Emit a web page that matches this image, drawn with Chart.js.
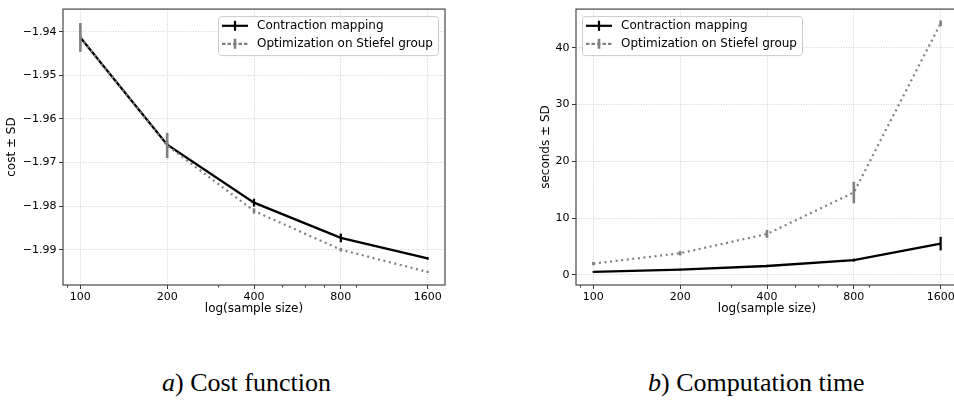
<!DOCTYPE html>
<html><head><meta charset="utf-8">
<script src="https://cdn.jsdelivr.net/npm/chart.js@4.4.0/dist/chart.umd.min.js"></script>
<style>
html,body{margin:0;padding:0;background:#fff;width:954px;height:403px;overflow:hidden;position:relative}
#wl{position:absolute;left:0;top:0;width:470px;height:320px}
#wr{position:absolute;left:480px;top:0;width:474px;height:320px;overflow:hidden}
.cap{position:absolute;top:370px;font-family:"Liberation Serif","Times New Roman",serif;font-size:26px;line-height:26px;color:#000;white-space:nowrap}
</style></head><body>
<div id="wl"><canvas id="cl" width="470" height="320"></canvas></div>
<div id="wr"><canvas id="cr" width="480" height="320"></canvas></div>
<div class="cap" style="left:162px"><i>a</i>) Cost function</div>
<div class="cap" style="left:648px"><i>b</i>) Computation time</div>
<script>
// ---- data ----
const sampleSizes = [100, 200, 400, 800, 1600];
const xTickLabels = ['100', '200', '400', '800', '1600'];
const xMinorTicks = [90, 300, 500, 600, 700, 900];
const seriesNames = ['Contraction mapping', 'Optimization on Stiefel group'];

const costContraction   = [-1.9413, -1.9659, -1.9792, -1.9873, -1.9920];
const costContractionSD = [0.0003, 0.0005, 0.0009, 0.0010, 0.0003];
const costStiefel       = [-1.9413, -1.9661, -1.9811, -1.9900, -1.9951];
const costStiefelSD     = [0.0033, 0.0029, 0.0006, 0.0004, 0.0002];
const costTicks = [-1.94, -1.95, -1.96, -1.97, -1.98, -1.99];
const costRange = [-1.9981, -1.9348];

const timeContraction   = [0.52, 0.93, 1.56, 2.6, 5.5];
const timeContractionSD = [0.1, 0.15, 0.2, 0.25, 1.2];
const timeStiefel       = [1.98, 3.8, 7.2, 14.5, 44.3];
const timeStiefelSD     = [0.3, 0.4, 0.7, 1.9, 0.5];
const timeTicks = [0, 10, 20, 30, 40];
const timeRange = [-1.79, 46.8];

const xRange = [100 * Math.pow(2, -0.2), 1600 * Math.pow(2, 0.2)];

// ---- styling ----
const FONT = '"DejaVu Sans", sans-serif';
const BLACK = '#000000';
const GREY = '#808080';

const errorAndFrame = {
  id: 'errorAndFrame',
  afterDatasetDraw(chart, args) {
    const ds = chart.data.datasets[args.index];
    const ctx = chart.ctx, xs = chart.scales.x, ys = chart.scales.y;
    ctx.save();
    ctx.strokeStyle = ds.borderColor;
    ctx.lineWidth = ds.barWidth;
    ctx.setLineDash([]);
    ds.data.forEach((p, i) => {
      const x = xs.getPixelForValue(p.x);
      ctx.beginPath();
      ctx.moveTo(x, ys.getPixelForValue(p.y - ds.sd[i]));
      ctx.lineTo(x, ys.getPixelForValue(p.y + ds.sd[i]));
      ctx.stroke();
    });
    ctx.restore();
  },
  afterDraw(chart, args, opts) {
    const ctx = chart.ctx, a = chart.chartArea, xs = chart.scales.x;
    ctx.save();
    // minor ticks
    ctx.strokeStyle = '#333';
    ctx.lineWidth = 1;
    xMinorTicks.forEach(v => {
      const x = Math.round(xs.getPixelForValue(v)) + 0.5;
      ctx.beginPath(); ctx.moveTo(x, a.bottom); ctx.lineTo(x, a.bottom + 2.5); ctx.stroke();
    });
    // spines
    ctx.strokeStyle = '#555';
    ctx.lineWidth = 1.3;
    ctx.strokeRect(a.left, a.top, a.right - a.left, a.bottom - a.top);
    // legend
    const w = 220, h = 39;
    const bx = opts.side === 'right' ? a.right - 7 - w : a.left + 6;
    const by = a.top + 7;
    ctx.fillStyle = 'rgba(255,255,255,0.85)';
    ctx.strokeStyle = '#cccccc';
    ctx.lineWidth = 1;
    ctx.beginPath();
    ctx.roundRect(bx + 0.5, by + 0.5, w, h, 3);
    ctx.fill(); ctx.stroke();
    const rows = [
      {name: seriesNames[0], color: BLACK, dash: [], lw: 2.2, bw: 2.2},
      {name: seriesNames[1], color: GREY, dash: [3.5, 2], lw: 2.2, bw: 2.6}
    ];
    rows.forEach((r, i) => {
      const y = by + 9.7 + i * 18;
      const x0 = bx + 4, x1 = bx + 30;
      ctx.strokeStyle = r.color;
      ctx.lineWidth = r.lw;
      ctx.setLineDash(r.dash);
      ctx.beginPath(); ctx.moveTo(x0, y); ctx.lineTo(x1, y); ctx.stroke();
      ctx.setLineDash([]);
      ctx.lineWidth = r.bw;
      ctx.beginPath(); ctx.moveTo((x0 + x1) / 2, y - 5); ctx.lineTo((x0 + x1) / 2, y + 5); ctx.stroke();
      ctx.fillStyle = '#000';
      ctx.font = '12px ' + FONT;
      ctx.textBaseline = 'middle';
      ctx.textAlign = 'left';
      ctx.fillText(r.name, bx + 39, y + 0.5);
    });
    ctx.restore();
  }
};

function makeChart(id, cfg) {
  const mk = (vals) => sampleSizes.map((x, i) => ({x: x, y: vals[i]}));
  return new Chart(document.getElementById(id), {
    type: 'line',
    data: {
      datasets: [
        {label: seriesNames[0], data: mk(cfg.a), sd: cfg.aSD, borderColor: BLACK, borderWidth: 2.3,
         barWidth: 2.2, pointRadius: 0, tension: 0, fill: false, order: 1},
        {label: seriesNames[1], data: mk(cfg.b), sd: cfg.bSD, borderColor: GREY, borderWidth: 2.2,
         borderDash: [2, 3.6], barWidth: 2.6, pointRadius: 0, tension: 0, fill: false, order: 0}
      ]
    },
    options: {
      responsive: false,
      maintainAspectRatio: false,
      animation: false,
      events: [],
      layout: {padding: cfg.padding},
      plugins: {legend: {display: false}, tooltip: {enabled: false}, errorAndFrame: {side: cfg.legendSide}},
      scales: {
        x: {
          type: 'logarithmic',
          min: xRange[0], max: xRange[1],
          afterBuildTicks: s => { s.ticks = sampleSizes.map(v => ({value: v})); },
          afterFit: s => { s.height = 35; },
          border: {display: false, dash: [1, 1.5]},
          grid: {color: '#c4c4c4', lineWidth: 0.8, tickLength: 4, tickColor: '#333', tickWidth: 1},
          ticks: {
            color: '#000', padding: 2, maxRotation: 0, autoSkip: false,
            font: {family: FONT, size: 11},
            callback: (v, i) => xTickLabels[i]
          },
          title: {display: true, text: 'log(sample size)', color: '#000',
                  font: {family: FONT, size: 12}, padding: {top: 0, bottom: 3.5}}
        },
        y: {
          type: 'linear',
          min: cfg.range[0], max: cfg.range[1],
          afterBuildTicks: s => { s.ticks = cfg.ticks.map(v => ({value: v})); },
          afterFit: s => { s.width = cfg.yWidth; },
          border: {display: false, dash: [1, 1.5]},
          grid: {color: '#c4c4c4', lineWidth: 0.8, tickLength: 4, tickColor: '#333', tickWidth: 1},
          ticks: {
            color: '#000', padding: 2.5,
            font: {family: FONT, size: 11},
            callback: (v, i) => cfg.fmt(cfg.ticks[i])
          },
          title: {display: true, text: cfg.yTitle, color: '#000',
                  font: {family: FONT, size: 12}, padding: {top: 4, bottom: 0}}
        }
      }
    },
    plugins: [errorAndFrame]
  });
}

makeChart('cl', {
  a: costContraction, aSD: costContractionSD, b: costStiefel, bSD: costStiefelSD,
  ticks: costTicks, range: costRange, yTitle: 'cost \u00b1 SD',
  fmt: v => v.toFixed(2).replace('-', '\u2212'),
  padding: {left: 1, top: 5, right: 25, bottom: 0}, yWidth: 62, legendSide: 'right'
});
makeChart('cr', {
  a: timeContraction, aSD: timeContractionSD, b: timeStiefel, bSD: timeStiefelSD,
  ticks: timeTicks, range: timeRange, yTitle: 'seconds \u00b1 SD',
  fmt: v => String(v),
  padding: {left: 55, top: 5, right: 2, bottom: 0}, yWidth: 41, legendSide: 'left'
});
</script>
</body></html>
